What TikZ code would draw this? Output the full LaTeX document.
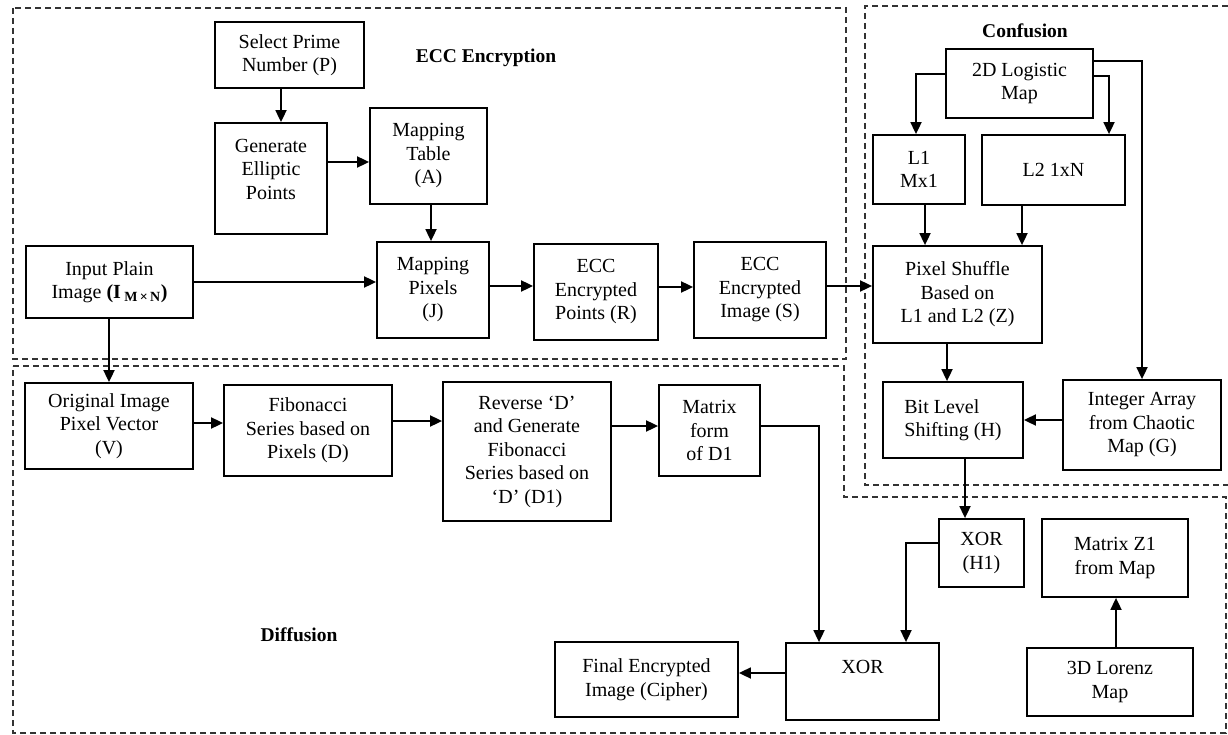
\documentclass[tikz,border=0pt]{standalone}
\usepackage{fontspec}
\setmainfont{Liberation Serif}
\usetikzlibrary{arrows.meta}
\begin{document}
\begin{tikzpicture}[x=1pt,y=-1pt,
  box/.style={draw, line width=1.8pt, align=center, inner sep=0pt, font=\fontsize{20}{23.5}\selectfont},
  txt/.style={align=center, inner sep=0pt, font=\fontsize{20}{23.5}\selectfont},
  title/.style={inner sep=0pt, font=\fontsize{19.5}{23}\selectfont\bfseries},
  arr/.style={line width=1.8pt, -{Triangle[length=12pt,width=11pt]}},
  region/.style={line width=1.3pt, dash pattern=on 6pt off 4pt, black!80}]
\useasboundingbox (0,0) rectangle (1228,735);
% regions
\draw[region] (13,8) rectangle (846,359);
\draw[region] (1228,6) -- (865,6) -- (865,485) -- (1228,485);
\draw[region] (13,366) -- (844,366) -- (844,497) -- (1226,497) -- (1226,733) -- (13,733) -- cycle;
% titles
\node[title] (ecct) at (486,58) {ECC Encryption};
\node[title] (conft) at (1025,31) {Confusion};
\node[title] (difft) at (299,635) {Diffusion};
% boxes
\node[box, minimum width=149pt, minimum height=66pt] (sel) at (289.5,55) {Select Prime\\Number (P)};
\node[box, minimum width=112pt, minimum height=111pt] (gen) at (271,178.5) {};
\node[txt] (gentxt) at (271,169) {Generate\\Elliptic\\Points};
\node[box, minimum width=117pt, minimum height=96pt] (tab) at (428.5,156) {Mapping\\Table\\(A)};
\node[box, minimum width=167pt, minimum height=72pt] (inp) at (109.5,282) {Input Plain\\Image \textbf{(I\,\textsubscript{M\,×\,N})}};
\node[box, minimum width=112pt, minimum height=96pt] (mpx) at (433,290) {Mapping\\Pixels\\(J)};
\node[box, minimum width=124pt, minimum height=96pt] (ept) at (596,292) {ECC\\Encrypted\\Points (R)};
\node[box, minimum width=132pt, minimum height=96pt] (eim) at (760,290) {ECC\\Encrypted\\Image (S)};
\node[box, minimum width=147pt, minimum height=69pt] (log) at (1019.5,83.5) {2D Logistic\\Map};
\node[box, minimum width=92pt, minimum height=69pt] (l1) at (919,169.5) {L1\\Mx1};
\node[box, minimum width=143pt, minimum height=70pt] (l2) at (1053.5,170) {L2 1xN};
\node[box, minimum width=169pt, minimum height=97pt] (psh) at (957.5,294.5) {Pixel Shuffle\\Based on\\L1 and L2 (Z)};
\node[box, align=left, minimum width=140pt, minimum height=76pt] (bit) at (953,420) {Bit Level\\Shifting (H)};
\node[box, minimum width=158pt, minimum height=90pt] (int) at (1142,425) {Integer Array\\from Chaotic\\Map (G)};
\node[box, minimum width=168pt, minimum height=86pt] (org) at (109,426) {Original Image\\Pixel Vector\\(V)};
\node[box, minimum width=168pt, minimum height=91pt] (fib) at (308,430.5) {Fibonacci\\Series based on\\Pixels (D)};
\node[box, minimum width=168pt, minimum height=139pt] (rev) at (527,451.5) {Reverse `D'\\and Generate\\Fibonacci\\Series based on\\`D' (D1)};
\node[box, minimum width=101pt, minimum height=91pt] (mat) at (709.5,430.5) {Matrix\\form\\of D1};
\node[box, minimum width=85pt, minimum height=68pt] (xh1) at (981.5,553) {XOR\\(H1)};
\node[box, minimum width=146pt, minimum height=78pt] (mz1) at (1115,558) {Matrix Z1\\from Map};
\node[box, minimum width=153pt, minimum height=77pt] (xor) at (862.5,681.5) {};
\node[txt] (xortxt) at (862.5,667) {XOR};
\node[box, minimum width=183pt, minimum height=75pt] (fin) at (646.5,679.5) {Final Encrypted\\Image (Cipher)};
\node[box, minimum width=166pt, minimum height=68pt] (lor) at (1110,682) {3D Lorenz\\Map};
% connectors
\draw[arr] (sel.south -| 281,0) -- (gen.north -| 281,0);
\draw[arr] (gen.east |- 0,162) -- (tab.west |- 0,162);
\draw[arr] (tab.south -| 431,0) -- (mpx.north -| 431,0);
\draw[arr] (inp.east |- 0,282) -- (mpx.west |- 0,282);
\draw[arr] (mpx.east |- 0,286) -- (ept.west |- 0,286);
\draw[arr] (ept.east |- 0,287) -- (eim.west |- 0,287);
\draw[arr] (eim.east |- 0,286) -- (psh.west |- 0,286);
\draw[arr] (inp.south -| 109,0) -- (org.north -| 109,0);
\draw[arr] (org.east |- 0,423) -- (fib.west |- 0,423);
\draw[arr] (fib.east |- 0,421) -- (rev.west |- 0,421);
\draw[arr] (rev.east |- 0,426) -- (mat.west |- 0,426);
\draw[arr] (mat.east |- 0,426) -| (xor.north -| 819,0);
\draw[arr] (xh1.west |- 0,543) -| (xor.north -| 906,0);
\draw[arr] (bit.south -| 965,0) -- (xh1.north -| 965,0);
\draw[arr] (psh.south -| 947,0) -- (bit.north -| 947,0);
\draw[arr] (int.west |- 0,420) -- (bit.east |- 0,420);
\draw[arr] (xor.west |- 0,673) -- (fin.east |- 0,673);
\draw[arr] (lor.north -| 1116,0) -- (mz1.south -| 1116,0);
\draw[arr] (log.west |- 0,74) -| (l1.north -| 916,0);
\draw[arr] (log.east |- 0,76) -| (l2.north -| 1109,0);
\draw[arr] (log.east |- 0,61) -| (int.north -| 1142,0);
\draw[arr] (l1.south -| 925,0) -- (psh.north -| 925,0);
\draw[arr] (l2.south -| 1022,0) -- (psh.north -| 1022,0);
\end{tikzpicture}
\end{document}
